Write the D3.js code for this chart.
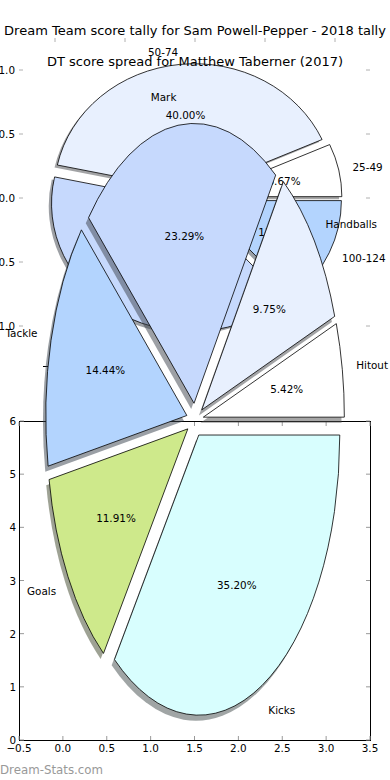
<!DOCTYPE html>
<html>
<head>
<meta charset="utf-8">
<script src="https://cdn.jsdelivr.net/npm/d3@7"></script>
<style>
  body { margin: 0; background: #fff; }
  svg { display: block; font-family: "DejaVu Sans", sans-serif; }
</style>
</head>
<body>
<div id="screen"></div>
<script>
// score spread pie (back layer)
var spreadLabels = ["25-49", "50-74", "75-99", "100-124"];
var spreadValues = [6.67, 40.00, 40.00, 13.33];
var spreadColors = ["#ffffff", "#e8f0fe", "#c6d9fd", "#b3d4fe"];

// score tally pie (front layer)
var tallyLabels = ["Hitout", "Handballs", "Mark", "Tackle", "Goals", "Kicks"];
var tallyValues = [5.42, 9.75, 23.29, 14.44, 11.91, 35.20];
var tallyColors = ["#ffffff", "#e8f0fe", "#c6d9fd", "#b3d4fe", "#cee98b", "#d8fefe"];

var topTicks = [-1.0, -0.5, 0.0, 0.5, 1.0];
var bottomXTicks = [-0.5, 0.0, 0.5, 1.0, 1.5, 2.0, 2.5, 3.0, 3.5];
var bottomYTicks = [0, 1, 2, 3, 4, 5, 6];

var title1 = "Dream Team score tally for Sam Powell-Pepper - 2018 tally";
var title2 = "DT score spread for Matthew Taberner (2017)";

var width = 390, height = 780;
var svg = d3.select("#screen").append("svg").attr("width", width).attr("height", height);

var topX = d3.scaleLinear().domain([-1, 1]).range([55, 335]);
var topY = d3.scaleLinear().domain([-1, 1]).range([326, 70]);
var tallyX = d3.scaleLinear().domain([-1, 1]).range([54, 336]);
var tallyY = d3.scaleLinear().domain([-1, 1]).range([700, 140]);
var botX = d3.scaleLinear().domain([-0.5, 3.5]).range([19, 370]);
var botY = d3.scaleLinear().domain([0, 6]).range([740, 421]);

var fmt1 = d3.format(".1f");
var fmtTick = function(v) { return fmt1(v).replace("-", "\u2212"); };
var fmtPct = function(v) { return d3.format(".2f")(v) + "%"; };

var shadowColor = function(c) {
    var rgb = d3.rgb(c);
    return d3.rgb(rgb.r * 0.3, rgb.g * 0.3, rgb.b * 0.3).toString();
};

// draws an exploded pie on an x/y scale pair, matplotlib style (ccw from 3 o'clock)
var drawPie = function(g, xs, ys, labels, values, colors, explode) {
    var cx = xs(0), cy = ys(0), rx = xs(1) - cx, ry = cy - ys(1);
    var arcs = d3.pie().sort(null)
        .startAngle(Math.PI / 2)
        .endAngle(Math.PI / 2 - 2 * Math.PI)(values);
    var arc = d3.arc().innerRadius(0).outerRadius(1);
    var mid = function(d) { return (d.startAngle + d.endAngle) / 2; };
    var at = function(d, k) {
        return [cx + k * rx * Math.sin(mid(d)), cy - k * ry * Math.cos(mid(d))];
    };

    g.selectAll("path.shadow").data(arcs).join("path")
        .attr("class", "shadow")
        .attr("transform", function(d) {
            var p = at(d, explode);
            return "translate(" + (p[0] - 0.02 * rx) + "," + (p[1] + 0.02 * ry) + ") scale(" + rx + "," + ry + ")";
        })
        .attr("d", arc)
        .attr("fill", function(d, i) { return shadowColor(colors[i]); })
        .attr("fill-opacity", 0.5);

    g.selectAll("path.wedge").data(arcs).join("path")
        .attr("class", "wedge")
        .attr("transform", function(d) {
            var p = at(d, explode);
            return "translate(" + p[0] + "," + p[1] + ") scale(" + rx + "," + ry + ")";
        })
        .attr("d", arc)
        .attr("fill", function(d, i) { return colors[i]; })
        .attr("stroke", "#000")
        .attr("stroke-width", 0.8)
        .attr("vector-effect", "non-scaling-stroke");

    g.selectAll("text.lab").data(arcs).join("text")
        .attr("class", "lab")
        .attr("x", function(d) { return at(d, explode + 1.1)[0]; })
        .attr("y", function(d) { return at(d, explode + 1.1)[1]; })
        .attr("text-anchor", function(d) { return Math.sin(mid(d)) > 0 ? "start" : "end"; })
        .attr("dominant-baseline", "central")
        .attr("font-size", "10.4px")
        .attr("fill", "#000")
        .text(function(d, i) { return labels[i]; });

    g.selectAll("text.pct").data(arcs).join("text")
        .attr("class", "pct")
        .attr("x", function(d) { return at(d, explode + 0.6)[0]; })
        .attr("y", function(d) { return at(d, explode + 0.6)[1]; })
        .attr("text-anchor", "middle")
        .attr("dominant-baseline", "central")
        .attr("font-size", "10.4px")
        .attr("fill", "#000")
        .text(function(d) { return fmtPct(d.value); });
};

// first title
svg.append("text")
    .attr("x", width / 2).attr("y", 30)
    .attr("text-anchor", "middle").attr("dominant-baseline", "central")
    .attr("font-size", "13px")
    .text(title1);

// top axes: ticks only
var topAxis = svg.append("g");
topAxis.selectAll("line.xt").data(topTicks).join("line")
    .attr("x1", function(d) { return topX(d); }).attr("x2", function(d) { return topX(d); })
    .attr("y1", 38).attr("y2", 42)
    .attr("stroke", "#b0b0b0").attr("stroke-width", 1);
topAxis.selectAll("line.yl").data(topTicks).join("line")
    .attr("x1", 19).attr("x2", 23)
    .attr("y1", function(d) { return topY(d); }).attr("y2", function(d) { return topY(d); })
    .attr("stroke", "#b0b0b0").attr("stroke-width", 1);
topAxis.selectAll("line.yr").data(topTicks).join("line")
    .attr("x1", 366).attr("x2", 370)
    .attr("y1", function(d) { return topY(d); }).attr("y2", function(d) { return topY(d); })
    .attr("stroke", "#b0b0b0").attr("stroke-width", 1);
topAxis.selectAll("text").data(topTicks).join("text")
    .attr("x", 15).attr("y", function(d) { return topY(d); })
    .attr("text-anchor", "end").attr("dominant-baseline", "central")
    .attr("font-size", "10.4px")
    .text(fmtTick);

drawPie(svg.append("g"), topX, topY, spreadLabels, spreadValues, spreadColors, 0.05);

// second title
svg.append("text")
    .attr("x", width / 2).attr("y", 61)
    .attr("text-anchor", "middle").attr("dominant-baseline", "central")
    .attr("font-size", "13px")
    .text(title2);

// bottom axes frame + ticks
var bot = svg.append("g");
bot.append("rect")
    .attr("x", botX(-0.5) + 0.5).attr("y", botY(6) + 0.5)
    .attr("width", botX(3.5) - botX(-0.5)).attr("height", botY(0) - botY(6))
    .attr("fill", "none").attr("stroke", "#000").attr("stroke-width", 1);
bot.selectAll("line.bx").data(bottomXTicks).join("line")
    .attr("x1", function(d) { return botX(d); }).attr("x2", function(d) { return botX(d); })
    .attr("y1", botY(0)).attr("y2", botY(0) - 4)
    .attr("stroke", "#999");
bot.selectAll("line.tx").data(bottomXTicks).join("line")
    .attr("x1", function(d) { return botX(d); }).attr("x2", function(d) { return botX(d); })
    .attr("y1", botY(6) + 1).attr("y2", botY(6) + 5)
    .attr("stroke", "#999");
bot.selectAll("line.ly").data(bottomYTicks).join("line")
    .attr("x1", botX(-0.5) + 1).attr("x2", botX(-0.5) + 5)
    .attr("y1", function(d) { return botY(d); }).attr("y2", function(d) { return botY(d); })
    .attr("stroke", "#999");
bot.selectAll("line.ry").data(bottomYTicks).join("line")
    .attr("x1", botX(3.5) - 4).attr("x2", botX(3.5))
    .attr("y1", function(d) { return botY(d); }).attr("y2", function(d) { return botY(d); })
    .attr("stroke", "#999");
bot.selectAll("text.xl").data(bottomXTicks).join("text")
    .attr("x", function(d) { return botX(d); }).attr("y", botY(0) + 8)
    .attr("text-anchor", "middle").attr("dominant-baseline", "central")
    .attr("font-size", "10.4px")
    .text(fmtTick);
bot.selectAll("text.yl").data(bottomYTicks).join("text")
    .attr("x", botX(-0.5) - 3).attr("y", function(d) { return botY(d); })
    .attr("text-anchor", "end").attr("dominant-baseline", "central")
    .attr("font-size", "10.4px")
    .text(function(d) { return d; });

// stray tick from the tally axes
svg.append("line").attr("x1", 43).attr("x2", 48).attr("y1", 366.5).attr("y2", 366.5)
    .attr("stroke", "#000").attr("stroke-width", 1);

drawPie(svg.append("g"), tallyX, tallyY, tallyLabels, tallyValues, tallyColors, 0.06);

svg.append("text")
    .attr("x", 0).attr("y", 770)
    .attr("dominant-baseline", "central")
    .attr("font-size", "11.8px")
    .attr("fill", "#999")
    .text("Dream-Stats.com");
</script>
</body>
</html>
